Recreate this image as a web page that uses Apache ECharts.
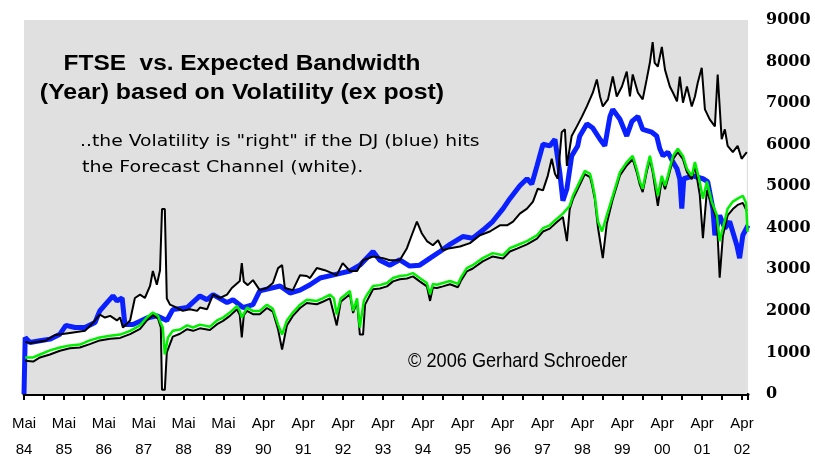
<!DOCTYPE html>
<html>
<head>
<meta charset="utf-8">
<script src="https://cdn.jsdelivr.net/npm/echarts@6/dist/echarts.min.js"></script>
<style>
html,body{margin:0;padding:0;background:#fff;}
#chart{width:815px;height:463px;}
</style>
</head>
<body>
<div id="chart"></div>
<script>
// x = years since May 1984 (label index), y = index points
var xLabels = ['Mai\n84','Mai\n85','Mai\n86','Mai\n87','Mai\n88','Mai\n89','Apr\n90','Apr\n91','Apr\n92','Apr\n93','Apr\n94','Apr\n95','Apr\n96','Apr\n97','Apr\n98','Apr\n99','Apr\n00','Apr\n01','Apr\n02'];
var yTicks = [0,1000,2000,3000,4000,5000,6000,7000,8000,9000];

var upperBand = [[0.03,1250],[0.15,1230],[0.53,1280],[0.78,1420],[1.15,1470],[1.53,1520],[1.78,1770],[1.90,1910],[2.03,1840],[2.16,1880],[2.33,1770],[2.41,1840],[2.48,1600],[2.66,1770],[2.78,2310],[2.91,2390],[3.03,2310],[3.16,2600],[3.23,2960],[3.33,2630],[3.41,2980],[3.46,4450],[3.53,4450],[3.58,2300],[3.66,2150],[3.83,2080],[3.98,2000],[4.16,2040],[4.34,2000],[4.41,2080],[4.59,2040],[4.74,2390],[4.91,2310],[5.09,2390],[5.21,2550],[5.41,2720],[5.46,3150],[5.51,2700],[5.61,2620],[5.74,2740],[5.91,2500],[6.09,2550],[6.24,2670],[6.37,3030],[6.47,3100],[6.54,2550],[6.74,2500],[6.92,2860],[7.09,2840],[7.17,2790],[7.34,3030],[7.54,2980],[7.84,2860],[7.99,3150],[8.17,2960],[8.35,2960],[8.50,3220],[8.75,3310],[9.00,3270],[9.17,3220],[9.42,3220],[9.60,3510],[9.72,3820],[9.85,4150],[9.97,3870],[10.10,3680],[10.25,3580],[10.38,3700],[10.50,3460],[10.68,3510],[10.93,3550],[11.18,3630],[11.43,3820],[11.68,3910],[11.93,4060],[12.11,4060],[12.26,4150],[12.43,4340],[12.61,4460],[12.76,4630],[12.88,4940],[13.01,4900],[13.13,5250],[13.23,5660],[13.31,5300],[13.38,5180],[13.48,6300],[13.56,6370],[13.61,5490],[13.73,6210],[13.86,6440],[13.99,6680],[14.11,6920],[14.26,7250],[14.36,7570],[14.44,7160],[14.51,6920],[14.64,7090],[14.76,7640],[14.86,7160],[14.99,7400],[15.11,7760],[15.19,7160],[15.26,7690],[15.39,7250],[15.51,7090],[15.61,7570],[15.69,7970],[15.76,8470],[15.81,7970],[15.89,7880],[15.99,8350],[16.07,7800],[16.19,7400],[16.27,7250],[16.37,7040],[16.44,7640],[16.52,7010],[16.62,7400],[16.74,6920],[16.82,7160],[16.89,7490],[16.99,7850],[17.07,6850],[17.19,6610],[17.32,6440],[17.39,7690],[17.49,6130],[17.57,6370],[17.64,5970],[17.77,5820],[17.89,5970],[17.99,5660],[18.12,5820]];

var lowerBand = [[0.03,800],[0.23,780],[0.40,880],[0.65,950],[0.90,1040],[1.15,1100],[1.40,1120],[1.65,1200],[1.90,1290],[2.16,1330],[2.41,1350],[2.66,1440],[2.91,1570],[3.08,1770],[3.23,1900],[3.36,1820],[3.43,1600],[3.46,100],[3.53,100],[3.58,1000],[3.73,1380],[3.91,1450],[4.09,1560],[4.24,1520],[4.41,1580],[4.66,1540],[4.84,1680],[4.99,1760],[5.16,1880],[5.34,2040],[5.41,1900],[5.46,1360],[5.51,1900],[5.59,2000],[5.74,1920],[5.91,1920],[6.09,2070],[6.24,1980],[6.37,1550],[6.47,1070],[6.52,1070],[6.59,1650],[6.74,1880],[6.92,2070],[7.09,2190],[7.34,2160],[7.49,2220],[7.67,2300],[7.84,1650],[7.94,2220],[8.17,2400],[8.25,1950],[8.35,2220],[8.42,1430],[8.50,1430],[8.55,2150],[8.75,2520],[8.92,2540],[9.10,2590],[9.25,2710],[9.42,2760],[9.60,2780],[9.75,2830],[9.92,2710],[10.10,2590],[10.18,2240],[10.25,2560],[10.35,2550],[10.50,2590],[10.68,2640],[10.88,2570],[10.95,2720],[11.10,2950],[11.25,3020],[11.50,3190],[11.75,3310],[12.01,3260],[12.18,3430],[12.36,3500],[12.61,3600],[12.86,3740],[13.01,3910],[13.18,3980],[13.36,4140],[13.51,4260],[13.61,3680],[13.68,4450],[13.76,4690],[13.93,5030],[14.06,5290],[14.19,5220],[14.24,5030],[14.31,4690],[14.39,4000],[14.51,3270],[14.61,4100],[14.76,4690],[14.94,5260],[15.11,5500],[15.26,5650],[15.36,5340],[15.44,5030],[15.51,4860],[15.61,5340],[15.69,5650],[15.76,5340],[15.89,4530],[15.99,5170],[16.07,4930],[16.14,5170],[16.27,5650],[16.39,5820],[16.52,5650],[16.62,5340],[16.74,5170],[16.82,5500],[16.94,4800],[17.02,3750],[17.12,4900],[17.24,4550],[17.37,4200],[17.44,2800],[17.52,3800],[17.64,4300],[17.77,4450],[17.89,4550],[18.02,4600],[18.12,4400]];

var greenLine = [[0.03,880],[0.23,880],[0.40,950],[0.65,1050],[0.90,1120],[1.15,1170],[1.40,1190],[1.65,1290],[1.90,1360],[2.16,1400],[2.41,1430],[2.66,1520],[2.91,1650],[3.08,1840],[3.23,1960],[3.36,1880],[3.43,1700],[3.48,1600],[3.53,950],[3.61,1360],[3.73,1520],[3.91,1550],[4.09,1650],[4.24,1600],[4.41,1670],[4.66,1620],[4.84,1770],[4.99,1840],[5.16,1960],[5.34,2120],[5.41,2000],[5.46,1840],[5.59,2080],[5.74,2000],[5.91,2000],[6.09,2150],[6.24,2050],[6.37,1670],[6.47,1430],[6.59,1770],[6.74,1960],[6.92,2150],[7.09,2270],[7.34,2240],[7.49,2300],[7.67,2390],[7.77,2300],[7.84,1910],[7.94,2300],[8.17,2480],[8.25,2000],[8.35,2300],[8.42,1600],[8.52,2250],[8.60,2390],[8.75,2600],[8.92,2620],[9.10,2670],[9.25,2790],[9.42,2840],[9.60,2860],[9.75,2910],[9.92,2790],[10.10,2670],[10.18,2400],[10.25,2650],[10.35,2630],[10.50,2670],[10.68,2720],[10.88,2650],[10.95,2800],[11.10,3030],[11.25,3100],[11.50,3270],[11.75,3390],[12.01,3340],[12.18,3510],[12.36,3580],[12.61,3680],[12.86,3820],[13.01,3990],[13.18,4060],[13.36,4220],[13.51,4340],[13.68,4530],[13.76,4770],[13.93,5110],[14.06,5370],[14.19,5300],[14.24,5110],[14.31,4770],[14.39,4150],[14.49,3910],[14.61,4300],[14.76,4770],[14.94,5340],[15.11,5580],[15.26,5730],[15.36,5420],[15.44,5110],[15.51,4940],[15.61,5420],[15.69,5730],[15.76,5420],[15.89,4770],[15.99,5250],[16.07,5010],[16.14,5250],[16.27,5730],[16.39,5900],[16.52,5730],[16.62,5420],[16.74,5250],[16.82,5580],[16.94,5110],[17.02,4700],[17.12,5110],[17.24,4630],[17.37,4300],[17.44,3680],[17.52,3990],[17.64,4460],[17.77,4630],[17.89,4700],[18.02,4770],[18.10,4600],[18.14,3900]];

var ftseBlue = [[0.00,0],[0.03,1360],[0.15,1240],[0.40,1280],[0.65,1320],[0.90,1440],[1.05,1650],[1.28,1600],[1.53,1600],[1.78,1720],[1.90,2000],[2.08,2200],[2.23,2360],[2.33,2240],[2.46,2310],[2.53,1670],[2.73,1670],[2.91,1750],[3.08,1830],[3.33,1880],[3.58,1770],[3.73,2030],[4.09,2080],[4.41,2360],[4.59,2270],[4.74,2390],[5.09,2200],[5.24,2270],[5.49,2080],[5.74,2150],[5.91,2480],[6.42,2600],[6.67,2430],[6.92,2500],[7.17,2630],[7.42,2790],[7.74,2860],[8.17,2960],[8.42,3100],[8.75,3430],[8.92,3220],[9.17,3100],[9.42,3230],[9.67,3080],[9.92,3100],[10.18,3270],[10.43,3430],[10.68,3600],[11.00,3790],[11.25,3750],[11.50,3940],[11.75,4150],[12.01,4460],[12.18,4700],[12.43,5010],[12.61,5180],[12.73,5050],[12.86,5490],[13.01,6010],[13.18,5970],[13.31,6130],[13.43,5340],[13.51,4650],[13.61,4940],[13.73,5730],[13.88,5970],[13.93,6200],[14.11,6500],[14.26,6400],[14.44,6130],[14.56,5970],[14.69,6680],[14.76,6850],[14.94,6610],[15.11,6210],[15.24,6560],[15.39,6680],[15.51,6370],[15.74,6300],[15.86,6210],[15.94,5900],[16.02,5730],[16.14,5820],[16.27,5580],[16.37,5420],[16.44,5180],[16.49,4460],[16.54,5180],[16.77,5250],[17.02,5180],[17.14,5110],[17.27,4460],[17.32,3820],[17.44,4300],[17.57,3990],[17.69,4150],[17.87,3580],[17.94,3270],[18.02,3820],[18.15,4060]];

var bg = '#e0e0e0';
var sans = 'Liberation Sans, Arial, sans-serif';
var chart = echarts.init(document.getElementById('chart'), null, {renderer:'canvas'});
var option = {
  animation: false,
  backgroundColor: '#ffffff',
  grid: {left: 24, right: 67, top: 20, bottom: 66, show: true, backgroundColor: bg, borderWidth: 0},
  xAxis: {
    type: 'value', min: 0, max: 18.15, interval: 0.5,
    axisLine: {show: true, lineStyle: {color: '#000', width: 3}},
    axisTick: {show: true, length: 6, lineStyle: {color: '#000', width: 2}},
    splitLine: {show: false},
    axisLabel: {
      color: '#000', fontSize: 15, fontFamily: sans,
      lineHeight: 26, margin: 17,
      formatter: function (v) {
        var r = Math.round(v);
        if (Math.abs(v - r) < 1e-6 && r >= 0 && r < xLabels.length) return xLabels[r];
        return '';
      }
    }
  },
  yAxis: {
    type: 'value', position: 'right', min: yTicks[0], max: yTicks[yTicks.length - 1], interval: 1000,
    axisLine: {show: false}, axisTick: {show: false}, splitLine: {show: false},
    axisLabel: {color: '#000', fontSize: 16, fontWeight: 'bold', fontFamily: 'DejaVu Serif, serif', margin: 18, align: 'left',
      formatter: function (v) { return String(v); }}
  },
  series: [
    {type: 'line', data: upperBand, symbol: 'none', silent: true, lineStyle: {width: 0, opacity: 0}, areaStyle: {color: '#ffffff', opacity: 1}, z: 1},
    {type: 'line', data: lowerBand, symbol: 'none', silent: true, lineStyle: {width: 0, opacity: 0}, areaStyle: {color: bg, opacity: 1}, z: 2},
    {type: 'line', data: ftseBlue, symbol: 'none', lineStyle: {color: '#0a20ff', width: 5}, z: 3},
    {type: 'line', data: upperBand, symbol: 'none', lineStyle: {color: '#000', width: 2}, z: 4},
    {type: 'line', data: lowerBand, symbol: 'none', lineStyle: {color: '#000', width: 2}, z: 4},
    {type: 'line', data: greenLine, symbol: 'none', lineStyle: {color: '#00f000', width: 2.5}, z: 5}
  ],
  graphic: [
    {type: 'text', z: 100, x: 242, y: 64, scaleX: 1.11, style: {text: 'FTSE  vs. Expected Bandwidth', x: 0, y: 0, align: 'center', verticalAlign: 'middle', fontSize: 22, fontWeight: 'bold', fontFamily: sans, fill: '#000'}},
    {type: 'text', z: 100, x: 242, y: 93, scaleX: 1.13, style: {text: '(Year) based on Volatility (ex post)', x: 0, y: 0, align: 'center', verticalAlign: 'middle', fontSize: 22, fontWeight: 'bold', fontFamily: sans, fill: '#000'}},
    {type: 'text', z: 100, x: 80, y: 142, scaleX: 1.25, style: {text: '..the Volatility is "right" if the DJ (blue) hits', x: 0, y: 0, align: 'left', verticalAlign: 'middle', fontSize: 15, fontFamily: 'DejaVu Sans, sans-serif', fill: '#000'}},
    {type: 'text', z: 100, x: 82, y: 168, scaleX: 1.27, style: {text: 'the Forecast Channel (white).', x: 0, y: 0, align: 'left', verticalAlign: 'middle', fontSize: 15, fontFamily: 'DejaVu Sans, sans-serif', fill: '#000'}},
    {type: 'text', z: 100, x: 408, y: 361, scaleX: 0.865, style: {text: '\u00a9 2006 Gerhard Schroeder', x: 0, y: 0, align: 'left', verticalAlign: 'middle', fontSize: 21, fontFamily: sans, fill: '#000'}}
  ]
};
chart.setOption(option);
</script>
</body>
</html>
